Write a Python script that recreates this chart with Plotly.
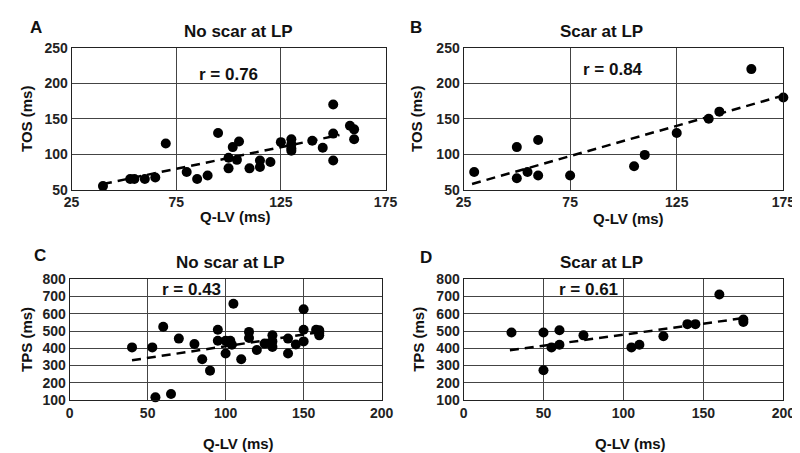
import plotly.graph_objects as go

# Panel A - no scar at LP, TOS vs Q-LV
a_qlv = [40, 53, 55, 60, 65, 70, 80, 85, 90, 95, 100, 100, 102, 104, 105, 110, 115, 115,
         120, 125, 130, 130, 130, 130, 140, 145, 150, 150, 150, 158, 160, 160]
a_tos = [55, 65, 65, 65, 67, 115, 75, 65, 70, 130, 80, 95, 110, 92, 118, 80, 82, 91,
         89, 117, 121, 114, 108, 105, 119, 109, 170, 129, 91, 140, 135, 121]
a_trend_x = [40, 153]
a_trend_y = [58, 127]

# Panel B - scar at LP, TOS vs Q-LV
b_qlv = [30, 50, 50, 55, 60, 60, 75, 105, 110, 125, 140, 145, 160, 175]
b_tos = [75, 110, 66, 75, 120, 70, 70, 83, 99, 130, 150, 160, 220, 180]
b_trend_x = [29, 173]
b_trend_y = [58, 181]

# Panel C - no scar at LP, TPS vs Q-LV
c_qlv = [40, 53, 55, 60, 65, 70, 80, 85, 90, 95, 95, 100, 100, 103, 104, 105, 110, 115,
         115, 120, 125, 130, 130, 130, 140, 140, 145, 150, 150, 150, 158, 160, 160, 160]
c_tps = [405, 405, 115, 525, 134, 456, 425, 336, 270, 507, 444, 444, 370, 444, 420, 658, 336, 495,
         460, 390, 427, 475, 440, 408, 456, 370, 422, 626, 507, 440, 507, 488, 475, 505]
c_trend_x = [40, 159]
c_trend_y = [330, 492]

# Panel D - scar at LP, TPS vs Q-LV
d_qlv = [30, 50, 50, 55, 60, 60, 75, 105, 110, 125, 140, 145, 160, 175, 175]
d_tps = [492, 492, 272, 405, 505, 420, 475, 405, 420, 470, 540, 540, 712, 553, 567]
d_trend_x = [29, 175]
d_trend_y = [388, 575]

# tick labels
tos_x_ticks = [25, 75, 125, 175]
tos_y_ticks = [50, 100, 150, 200, 250]
tps_x_ticks = [0, 50, 100, 150, 200]
tps_y_ticks = [100, 200, 300, 400, 500, 600, 700, 800]

r_labels = ["r = 0.76", "r = 0.84", "r = 0.43", "r = 0.61"]
titles = ["No scar at LP", "Scar at LP", "No scar at LP", "Scar at LP"]
letters = ["A", "B", "C", "D"]

FONT = "Liberation Sans"
W, H = 800, 453

def px(x):
    return x / W

def py(y):
    return 1 - y / H

bold = lambda s: "<b>" + str(s) + "</b>"

fig = go.Figure()

panels = [
    (a_qlv, a_tos, a_trend_x, a_trend_y, "x", "y"),
    (b_qlv, b_tos, b_trend_x, b_trend_y, "x2", "y2"),
    (c_qlv, c_tps, c_trend_x, c_trend_y, "x3", "y3"),
    (d_qlv, d_tps, d_trend_x, d_trend_y, "x4", "y4"),
]

for xs, ys, tx, ty, xa, ya in panels:
    fig.add_trace(go.Scatter(x=tx, y=ty, mode="lines", xaxis=xa, yaxis=ya,
                             line=dict(color="black", width=2.5, dash="9px,6px"),
                             showlegend=False, hoverinfo="skip"))
    fig.add_trace(go.Scatter(x=xs, y=ys, mode="markers", xaxis=xa, yaxis=ya, cliponaxis=False,
                             marker=dict(color="black", size=10), showlegend=False))

# pixel boxes of the four plot areas: (left, right, top, bottom)
boxes = [(57, 379, 33, 180), (459, 787, 33, 180), (55, 375, 273, 398), (459, 787, 273, 398)]

axis_common = dict(showline=True, linecolor="#222", linewidth=1, mirror=True,
                   showgrid=True, gridcolor="#444", gridwidth=1, zeroline=False,
                   ticks="", tickfont=dict(family=FONT, size=14, color="#222"))

layout = dict(width=W, height=H, margin=dict(l=0, r=0, t=0, b=0),
              plot_bgcolor="white", paper_bgcolor="white",
              font=dict(family=FONT, color="#222"))

for i, (l, r, t, b) in enumerate(boxes):
    sfx = "" if i == 0 else str(i + 1)
    if i < 2:
        xt, yt = tos_x_ticks, tos_y_ticks
    else:
        xt, yt = tps_x_ticks, tps_y_ticks
    layout["xaxis" + sfx] = dict(axis_common, domain=[px(l), px(r)], range=[xt[0], xt[-1]],
                                 tickvals=xt, ticktext=[bold(v) for v in xt], anchor="y" + sfx)
    layout["yaxis" + sfx] = dict(axis_common, domain=[py(b), py(t)], range=[yt[0], yt[-1]],
                                 tickvals=yt, ticktext=[bold(v) for v in yt], anchor="x" + sfx)

fig.update_layout(**layout)

ann = []
# panel letters
for s, (x, y) in zip(letters, [(20, 12), (410, 12), (25, 248), (420, 250)]):
    ann.append(dict(text=bold(s), x=px(x), y=py(y), font=dict(size=17)))
# panel titles
for s, (x, y) in zip(titles, [(228, 16), (600, 16), (220, 256), (600, 256)]):
    ann.append(dict(text=bold(s), x=px(x), y=py(y), font=dict(size=17)))
# r values
for s, (x, y) in zip(r_labels, [(218, 61), (612, 55), (180, 283), (587, 283)]):
    ann.append(dict(text=bold(s), x=px(x), y=py(y), font=dict(size=17)))
# x axis titles
for x, y in [(225, 208), (628, 210), (228, 443), (630, 443)]:
    ann.append(dict(text=bold("Q-LV (ms)"), x=px(x), y=py(y), font=dict(size=15)))
# y axis titles
for s, (x, y) in zip(["TOS (ms)", "TOS (ms)", "TPS (ms)", "TPS (ms)"],
                     [(10, 107), (410, 107), (10, 335), (412, 335)]):
    ann.append(dict(text=bold(s), x=px(x), y=py(y), textangle=-90, font=dict(size=15)))

for a in ann:
    a.update(xref="paper", yref="paper", showarrow=False, xanchor="center", yanchor="middle")
    a["font"].update(family=FONT, color="#111")

fig.update_layout(annotations=ann)
fig.write_html("out.html")
